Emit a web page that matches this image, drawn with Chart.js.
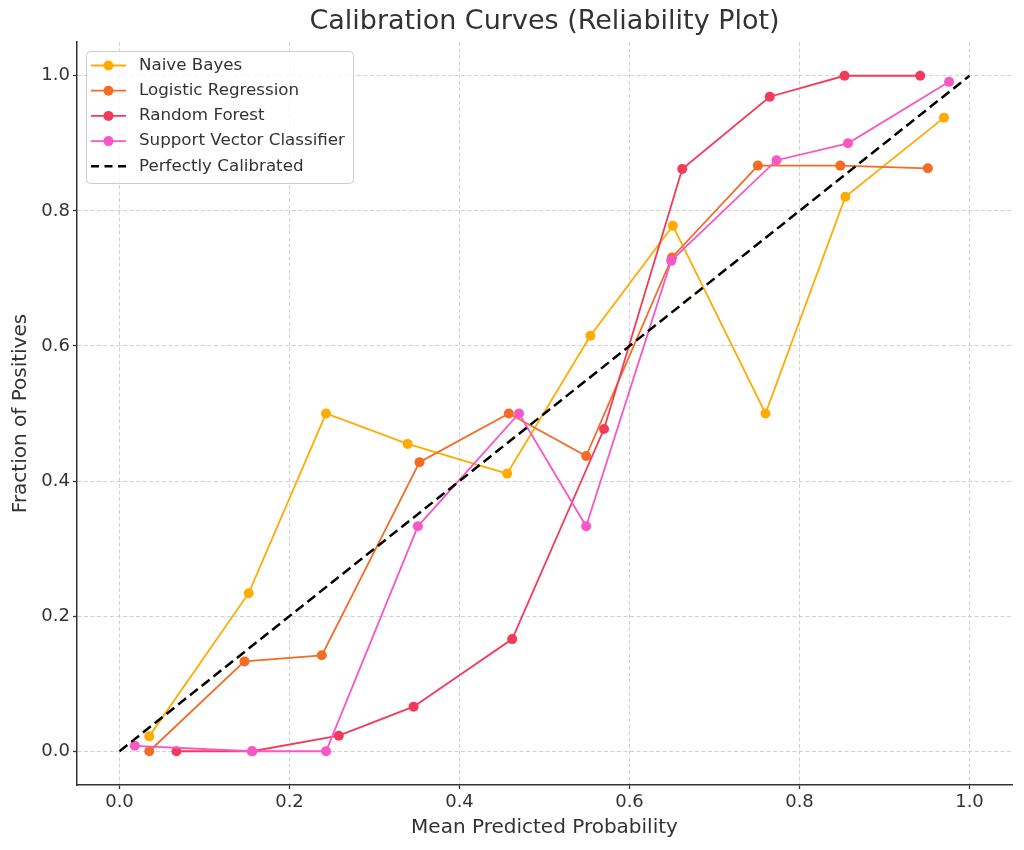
<!DOCTYPE html>
<html>
<head>
<meta charset="utf-8">
<title>Calibration Curves</title>
<script src="https://cdn.jsdelivr.net/npm/chart.js@4.4.1/dist/chart.umd.min.js"></script>
<style>
  html, body { margin: 0; padding: 0; background: #fff; }
  #wrap { width: 1024px; height: 850px; position: relative; }
</style>
</head>
<body>
<div id="wrap"><canvas id="calChart"></canvas></div>
<script>
// values
const xTicks = [0.0, 0.2, 0.4, 0.6, 0.8, 1.0];
const yTicks = [0.0, 0.2, 0.4, 0.6, 0.8, 1.0];

const chartTitle = "Calibration Curves (Reliability Plot)";
const seriesNames = ["Naive Bayes", "Logistic Regression", "Random Forest", "Support Vector Classifier"];
const seriesColors = ["#ffab00", "#f46b24", "#f33a58", "#f956c6"];

const nbX = [0.035, 0.152, 0.243, 0.339, 0.456, 0.554, 0.651, 0.760, 0.854, 0.970];
const nbY = [0.022, 0.234, 0.500, 0.455, 0.411, 0.615, 0.778, 0.500, 0.821, 0.938];

const lrX = [0.035, 0.147, 0.238, 0.353, 0.458, 0.549, 0.650, 0.751, 0.848, 0.951];
const lrY = [0.000, 0.133, 0.142, 0.428, 0.500, 0.437, 0.731, 0.867, 0.867, 0.863];

const rfX = [0.067, 0.156, 0.258, 0.346, 0.462, 0.570, 0.662, 0.765, 0.853, 0.942];
const rfY = [0.000, 0.000, 0.023, 0.066, 0.166, 0.477, 0.862, 0.969, 1.000, 1.000];

const svcX = [0.018, 0.156, 0.243, 0.351, 0.470, 0.549, 0.649, 0.773, 0.857, 0.976];
const svcY = [0.008, 0.000, 0.000, 0.333, 0.500, 0.333, 0.726, 0.875, 0.900, 0.991];

const diagX = [0, 1];
const diagY = [0, 1];

const toPoints = (xs, ys) => xs.map((x, i) => ({ x: x, y: ys[i] }));

const seriesData = [
  toPoints(nbX, nbY),
  toPoints(lrX, lrY),
  toPoints(rfX, rfY),
  toPoints(svcX, svcY)
];

const textColor = "#333333";
Chart.defaults.font.family = "'DejaVu Sans', sans-serif";
Chart.defaults.color = textColor;

const datasets = seriesData.map((pts, i) => ({
  label: seriesNames[i],
  data: pts,
  borderColor: seriesColors[i],
  backgroundColor: seriesColors[i],
  borderWidth: 1.8,
  pointRadius: 5,
  pointHoverRadius: 5,
  pointBorderWidth: 0,
  pointBackgroundColor: seriesColors[i],
  showLine: true,
  tension: 0,
  order: 10 - i
}));

datasets.push({
  label: "Perfectly Calibrated",
  data: toPoints(diagX, diagY),
  borderColor: "#000000",
  backgroundColor: "#000000",
  borderWidth: 2.5,
  borderDash: [10, 5],
  pointRadius: 0,
  pointHoverRadius: 0,
  showLine: true,
  tension: 0,
  order: 1,
  isDashed: true
});

// title centred over the plot area, like matplotlib does it
const plotTitle = {
  id: "plotTitle",
  afterDraw(chart) {
    const ctx = chart.ctx;
    const area = chart.chartArea;
    ctx.save();
    ctx.font = "27px 'DejaVu Sans', sans-serif";
    ctx.fillStyle = textColor;
    ctx.textAlign = "center";
    ctx.textBaseline = "middle";
    ctx.fillText(chartTitle, (area.left + area.right) / 2, 22);
    ctx.restore();
  }
};

// legend box drawn inside the plot, upper left
const insideLegend = {
  id: "insideLegend",
  afterDraw(chart) {
    const ctx = chart.ctx;
    const sets = chart.data.datasets;
    const x0 = 86, y0 = 51, w = 267, rowH = 25.2;
    const h = 132;
    ctx.save();
    ctx.beginPath();
    ctx.roundRect(x0 + 0.5, y0 + 0.5, w, h, 4);
    ctx.fillStyle = "rgba(255,255,255,0.8)";
    ctx.fill();
    ctx.lineWidth = 1;
    ctx.strokeStyle = "#cccccc";
    ctx.stroke();

    ctx.font = "16.7px 'DejaVu Sans', sans-serif";
    ctx.textBaseline = "middle";
    ctx.textAlign = "left";
    sets.forEach((ds, i) => {
      const cy = 65.5 + i * rowH;
      ctx.beginPath();
      ctx.moveTo(91, cy);
      ctx.lineTo(126, cy);
      ctx.strokeStyle = ds.borderColor;
      ctx.lineWidth = ds.borderWidth;
      ctx.setLineDash(ds.isDashed ? [8, 5.5] : []);
      ctx.stroke();
      ctx.setLineDash([]);
      if (!ds.isDashed) {
        ctx.beginPath();
        ctx.arc(108.5, cy, 5, 0, Math.PI * 2);
        ctx.fillStyle = ds.borderColor;
        ctx.fill();
      }
      ctx.fillStyle = textColor;
      ctx.fillText(ds.label, 139, cy);
    });
    ctx.restore();
  }
};

new Chart(document.getElementById("calChart"), {
  type: "scatter",
  data: { datasets },
  options: {
    responsive: true,
    maintainAspectRatio: false,
    animation: false,
    layout: { padding: { left: 0, right: 12, top: 42, bottom: 0 } },
    plugins: {
      legend: { display: false },
      tooltip: { enabled: false },
      title: { display: false }
    },
    scales: {
      x: {
        type: "linear",
        min: -0.05,
        max: 1.05,
        afterBuildTicks: (axis) => { axis.ticks = xTicks.map(v => ({ value: v })); },
        afterFit: (axis) => { axis.height = 65; },
        ticks: {
          callback: (v) => Number(v).toFixed(1),
          font: { size: 18 },
          color: textColor,
          padding: 3,
          maxRotation: 0,
          autoSkip: false
        },
        grid: {
          color: "#cccccc",
          lineWidth: 0.9,
          tickColor: textColor,
          tickLength: 4,
          tickWidth: 1.3,
          tickBorderDash: []
        },
        border: { color: textColor, width: 1.5, dash: [4, 2.5] },
        title: {
          display: true,
          text: "Mean Predicted Probability",
          color: textColor,
          font: { size: 20 },
          padding: { top: 0, bottom: 10 }
        }
      },
      y: {
        type: "linear",
        min: -0.05,
        max: 1.05,
        afterBuildTicks: (axis) => { axis.ticks = yTicks.map(v => ({ value: v })); },
        afterFit: (axis) => { axis.width = 77; },
        ticks: {
          callback: (v) => Number(v).toFixed(1),
          font: { size: 18 },
          color: textColor,
          padding: 3,
          autoSkip: false
        },
        grid: {
          color: "#cccccc",
          lineWidth: 0.9,
          tickColor: textColor,
          tickLength: 4,
          tickWidth: 1.3,
          tickBorderDash: []
        },
        border: { color: textColor, width: 1.5, dash: [4, 2.5] },
        title: {
          display: true,
          text: "Fraction of Positives",
          color: textColor,
          font: { size: 20 },
          padding: { top: 9, bottom: 0 }
        }
      }
    }
  },
  plugins: [insideLegend, plotTitle]
});
</script>
</body>
</html>
